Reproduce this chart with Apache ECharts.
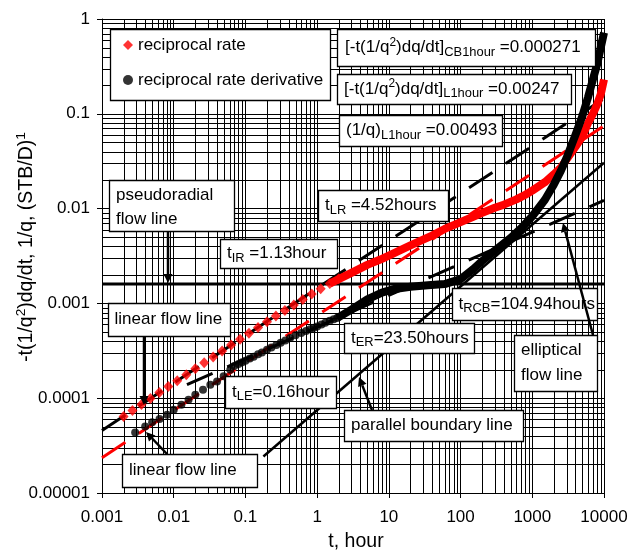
<!DOCTYPE html>
<html><head><meta charset="utf-8">
<script src="https://cdn.jsdelivr.net/npm/echarts@6/dist/echarts.min.js"></script>
<style>html,body{margin:0;padding:0;background:#fff}#c{width:640px;height:553px}</style>
</head><body><div id="c"></div><script>
const FONT = "'Liberation Sans', Arial, sans-serif";

// ---- tick labels ----
const xTickLabels = ['0.001','0.01','0.1','1','10','100','1000','10000'];
const yTickLabels = ['0.00001','0.0001','0.001','0.01','0.1','1'];

// ---- reciprocal rate (discrete diamonds, early time) ----
const rateT = [0.002,0.00266,0.00355,0.00473,0.00631,0.00841,0.0112,0.015,0.02,0.0266,0.0355,0.0473,0.0631,0.0841,0.112,0.15,0.2,0.266,0.355,0.473,0.631,0.841,1.12,1.5,2.0];
const rateY = [6.4e-5,7.4e-5,8.6e-5,9.9e-5,1.15e-4,1.33e-4,1.53e-4,1.77e-4,2.04e-4,2.36e-4,2.72e-4,3.14e-4,3.63e-4,4.19e-4,4.83e-4,5.58e-4,6.42e-4,7.35e-4,8.4e-4,9.6e-4,1.1e-3,1.26e-3,1.43e-3,1.62e-3,1.82e-3];
// ---- reciprocal rate (dense band, late time) ----
const rateBandT = [1.5,2,3,5,7.6,10,15,20,30,40,60,80,100,150,200,300,400,600,800,1000,1500,2000,2500,3000,4000,5000,6000,7000,8000,9000,10000];
const rateBandY = [1.62e-3,1.8e-3,2.1e-3,2.55e-3,2.9e-3,3.2e-3,3.7e-3,4.1e-3,4.7e-3,5.2e-3,6.1e-3,6.7e-3,7.2e-3,8.2e-3,9.0e-3,1.02e-2,1.1e-2,1.25e-2,1.4e-2,1.55e-2,1.9e-2,2.3e-2,2.7e-2,3.3e-2,4.5e-2,5.8e-2,8.0e-2,0.1,0.125,0.16,0.23];

// ---- reciprocal rate derivative (discrete circles) ----
const derivT = [0.0029,0.004,0.005,0.00635,0.0081,0.01,0.0128,0.0161,0.02,0.0256,0.0324,0.0402,0.0497,0.0615,0.07,0.08,0.09,0.1,0.115,0.13,0.15,0.17,0.2,0.23,0.27,0.31,0.36,0.42,0.5,0.6,0.7,0.8,0.9,1.0,1.15,1.3,1.5,1.7,1.9];
const derivY = [4.36e-5,5.04e-5,5.56e-5,6.04e-5,6.7e-5,7.57e-5,8.54e-5,9.63e-5,1.09e-4,1.23e-4,1.39e-4,1.5e-4,1.7e-4,2.0e-4,2.18e-4,2.29e-4,2.39e-4,2.48e-4,2.62e-4,2.74e-4,2.9e-4,3.04e-4,3.25e-4,3.43e-4,3.64e-4,3.84e-4,4.07e-4,4.32e-4,4.6e-4,4.87e-4,5.12e-4,5.33e-4,5.52e-4,5.72e-4,6.0e-4,6.25e-4,6.55e-4,6.8e-4,7.0e-4];
// ---- reciprocal rate derivative (dense band) ----
const derivBandT = [1.9,3,5,8,12,20,35,60,100,150,200,300,500,700,1000,1500,2000,2500,3000,4000,5000,6000,7000,8000,9000,10000];
const derivBandY = [7.0e-4,8.6e-4,1.1e-3,1.3e-3,1.42e-3,1.5e-3,1.55e-3,1.6e-3,1.8e-3,2.3e-3,2.8e-3,3.6e-3,4.9e-3,6.2e-3,8.3e-3,1.24e-2,1.8e-2,2.5e-2,3.4e-2,6.0e-2,9.5e-2,0.15,0.23,0.33,0.5,0.72];

// ---- straight reference lines (end points) ----
const pseudoradialT = [0.001, 10000], pseudoradialY = [1.6e-3, 1.6e-3];
const linearFlowT = [0.001, 10000], linearFlowY = [4.57e-5, 0.1445];
const linearFlowRedT = [0.001, 10000], linearFlowRedY = [2.36e-5, 0.0746];
const ellipticalT = [0.0153, 10000], ellipticalY = [1.39e-4, 0.0122];
const parallelT = [0.178, 10000], parallelY = [2.43e-5, 0.0305];

const zip = (a, b) => a.map((v, i) => [v, b[i]]);
const X_MIN = 0.001, X_MAX = 10000, Y_MIN = 1e-5, Y_MAX = 1;

const xMinor = [], yMinor = [];
for (let e = -3; e < 4; e++) for (let m = 2; m < 10; m++) xMinor.push(m * Math.pow(10, e));
for (let e = -5; e < 0; e++) for (let m = 2; m < 10; m++) yMinor.push(m * Math.pow(10, e));

function vline(params, api) {
  const v = api.value(0);
  const p1 = api.coord([v, Y_MIN]), p2 = api.coord([v, Y_MAX]);
  const x = Math.round(p1[0]) + 0.5;
  return {type: 'line', shape: {x1: x, y1: p1[1], x2: x, y2: p2[1]}, style: {stroke: '#000', lineWidth: 1}};
}
function hline(params, api) {
  const v = api.value(1);
  const p1 = api.coord([X_MIN, v]), p2 = api.coord([X_MAX, v]);
  const y = Math.round(p1[1]) + 0.5;
  return {type: 'line', shape: {x1: p1[0], y1: y, x2: p2[0], y2: y}, style: {stroke: '#000', lineWidth: 1}};
}

// ---- text helpers ----
const meas = document.createElement('canvas').getContext('2d');
function tw(s, fs) { meas.font = fs + 'px ' + FONT; return meas.measureText(s).width; }
function segLayout(segs, fs) {
  let cx = 0; const out = [];
  segs.forEach(([s, k]) => {
    const f = k === 'n' ? fs : (k === 'sub' ? fs * 0.76 : fs * 0.7);
    const dy = k === 'n' ? 0 : (k === 'sub' ? fs * 0.2 : -fs * 0.39);
    out.push({s, f, dy, x: cx});
    cx += tw(s, f);
  });
  return {items: out, width: cx};
}
function label(x, yMid, segs, fs) {
  fs = fs || 17;
  const L = segLayout(segs, fs);
  const base = yMid + 0.3 * fs;
  return L.items.map(it => ({
    type: 'text', z: 101, x: x + it.x, y: base + it.dy - 0.3 * it.f,
    style: {text: it.s, fontSize: it.f, fontFamily: FONT, fill: '#000', align: 'left', verticalAlign: 'middle'}
  }));
}
function box(x1, y1, x2, y2) {
  return {type: 'rect', z: 100, shape: {x: x1 + 0.5, y: y1 + 0.5, width: x2 - x1, height: y2 - y1},
    style: {fill: '#fff', stroke: '#000', lineWidth: 1.3}};
}
function arrow(x1, y1, x2, y2) {
  const dx = x2 - x1, dy = y2 - y1, L = Math.hypot(dx, dy), ux = dx / L, uy = dy / L;
  const hl = 9, hw = 4.5, bx = x2 - ux * hl, by = y2 - uy * hl;
  return [
    {type: 'line', z: 102, shape: {x1, y1, x2: bx, y2: by}, style: {stroke: '#000', lineWidth: 2.5}},
    {type: 'polygon', z: 102, shape: {points: [[x2, y2], [bx - uy * hw, by + ux * hw], [bx + uy * hw, by - ux * hw]]}, style: {fill: '#000'}}
  ];
}

const g = [];
// legend frame
g.push(box(110, 29, 330, 100));
// value boxes
g.push(box(337, 29, 595, 66));
g.push(...label(345, 47.5, [['[-t(1/q','n'],['2','sup'],[')dq/dt]','n'],['CB1hour','sub'],[' =0.000271','n']]));
g.push(box(337, 74, 571, 104));
g.push(...label(344, 89, [['[-t(1/q','n'],['2','sup'],[')dq/dt]','n'],['L1hour','sub'],[' =0.00247','n']]));
g.push(box(339, 115, 502, 146));
g.push(...label(346, 130.5, [['(1/q)','n'],['L1hour','sub'],[' =0.00493','n']]));
g.push(box(318, 190, 448, 221));
g.push(...label(325, 205.5, [['t','n'],['LR','sub'],[' =4.52hours','n']]));
g.push(box(109, 180, 234, 231));
g.push(...label(116, 195, [['pseudoradial','n']]));
g.push(...label(116, 219, [['flow line','n']]));
g.push(box(220, 239, 337, 268));
g.push(...label(227, 253.5, [['t','n'],['IR','sub'],[' =1.13hour','n']]));
g.push(box(108, 303, 230, 336));
g.push(...label(114.5, 319.5, [['linear flow line','n']]));
g.push(box(225, 376, 336, 408));
g.push(...label(232, 392, [['t','n'],['LE','sub'],['=0.16hour','n']]));
g.push(box(122, 454, 257, 487));
g.push(...label(129, 470.5, [['linear flow line','n']]));
g.push(box(452, 288, 597, 320));
g.push(...label(458.5, 304, [['t','n'],['RCB','sub'],['=104.94hours','n']]));
g.push(box(344, 323, 474, 353));
g.push(...label(351, 338, [['t','n'],['ER','sub'],['=23.50hours','n']]));
g.push(box(514, 335, 597, 391));
g.push(...label(521, 350, [['elliptical','n']]));
g.push(...label(521, 375, [['flow line','n']]));
g.push(box(344, 410, 523, 441));
g.push(...label(351, 425.5, [['parallel boundary line','n']]));
// arrows
g.push(...arrow(168, 231, 168, 283));
g.push(...arrow(144, 336, 144, 405));
g.push(...arrow(167, 454, 146, 432));
g.push(...arrow(372, 410, 359, 377));
g.push(...arrow(593, 335, 563, 223));
// axis titles
(function () {
  const fs = 19.5;
  const xt = segLayout([['t, hour','n']], fs);
  g.push(...label(356 - xt.width / 2, 542, [['t, hour','n']], fs));
  const ysegs = [['-t(1/q','n'],['2','sup'],[')dq/dt, 1/q, (STB/D)','n'],['1','sup']];
  const yl = segLayout(ysegs, fs);
  g.push({type: 'group', x: 27, y: 247, rotation: Math.PI / 2, children: label(-yl.width / 2, 0, ysegs, fs)});
})();

const chart = echarts.init(document.getElementById('c'), null, {renderer: 'canvas'});
chart.setOption({
  animation: false,
  backgroundColor: '#fff',
  grid: {left: 102, top: 19, width: 502, height: 474, containLabel: false},
  legend: {
    data: [{name: 'reciprocal rate', icon: 'diamond'}, {name: 'reciprocal rate derivative', icon: 'circle'}],
    orient: 'vertical', left: 123, top: 35, padding: 0, itemWidth: 10, itemHeight: 10, itemGap: 15,
    selectedMode: false, z: 200,
    textStyle: {fontSize: 17, fontFamily: FONT, color: '#000', lineHeight: 20}
  },
  xAxis: {
    type: 'log', logBase: 10, min: X_MIN, max: X_MAX, splitNumber: 7,
    axisLine: {show: true, lineStyle: {color: '#000', width: 1}},
    axisTick: {show: true, length: 5, lineStyle: {color: '#000'}},
    splitLine: {show: true, lineStyle: {color: '#000', width: 1}},
    axisLabel: {fontSize: 17, fontFamily: FONT, color: '#000', margin: 16,
      formatter: v => xTickLabels[Math.round(Math.log10(v)) + 3]}
  },
  yAxis: {
    type: 'log', logBase: 10, min: Y_MIN, max: Y_MAX, splitNumber: 5,
    axisLine: {show: true, lineStyle: {color: '#000', width: 1}},
    axisTick: {show: true, length: 5, lineStyle: {color: '#000'}},
    splitLine: {show: true, lineStyle: {color: '#000', width: 1}},
    axisLabel: {fontSize: 17, fontFamily: FONT, color: '#000', margin: 12,
      formatter: v => yTickLabels[Math.round(Math.log10(v)) + 5]}
  },
  graphic: g,
  series: [
    {type: 'custom', silent: true, z: 1, renderItem: vline, data: xMinor.map(v => [v, 0.001])},
    {type: 'custom', silent: true, z: 1, renderItem: hline, data: yMinor.map(v => [1, v])},
    {type: 'line', silent: true, z: 3, symbol: 'none', data: zip(pseudoradialT, pseudoradialY), lineStyle: {color: '#000', width: 3}},
    {type: 'line', silent: true, z: 3, symbol: 'none', data: zip(linearFlowT, linearFlowY), lineStyle: {color: '#000', width: 3, type: [28, 16]}},
    {type: 'line', silent: true, z: 3, symbol: 'none', data: zip(linearFlowRedT, linearFlowRedY), lineStyle: {color: '#ff0000', width: 3, type: [28, 16]}},
    {type: 'line', silent: true, z: 3, symbol: 'none', data: zip(ellipticalT, ellipticalY), lineStyle: {color: '#000', width: 3, type: [28, 16]}},
    {type: 'line', silent: true, z: 3, symbol: 'none', data: zip(parallelT, parallelY), lineStyle: {color: '#000', width: 2.5}},
    {type: 'line', name: 'rate band', silent: true, z: 4, symbol: 'none', data: zip(rateBandT, rateBandY), lineStyle: {color: '#ff0000', width: 8, join: 'round'}},
    {type: 'line', name: 'deriv band', silent: true, z: 5, symbol: 'none', data: zip(derivBandT, derivBandY), lineStyle: {color: '#000', width: 8, join: 'round'}},
    {type: 'scatter', name: 'reciprocal rate', z: 6, symbol: 'diamond', symbolSize: [10, 11], data: zip(rateT, rateY), itemStyle: {color: '#ff0000'}},
    {type: 'scatter', name: 'reciprocal rate derivative', z: 6, symbol: 'circle', symbolSize: 8, data: zip(derivT, derivY), itemStyle: {color: '#000'}}
  ]
});
</script></body></html>
